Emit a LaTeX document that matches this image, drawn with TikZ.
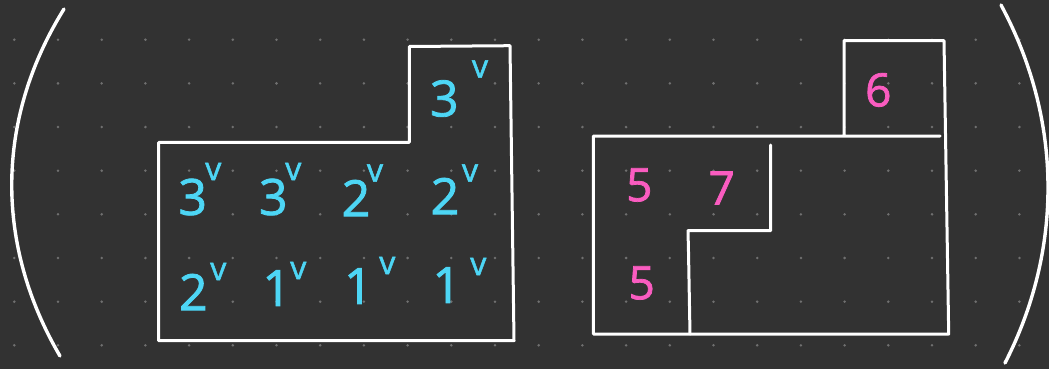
\documentclass[tikz,border=0pt]{standalone}
\usepackage{fontspec}
\setmainfont{Open Sans}
\newfontfamily\hand[FakeBold=1.6]{Open Sans}
\definecolor{bg}{HTML}{323232}
\definecolor{dotc}{HTML}{707070}
\definecolor{cy}{HTML}{4DD6F5}
\definecolor{pk}{HTML}{FA5CC0}
\tikzset{
  wall/.style={draw=white, line width=3pt, line cap=round, line join=round},
  paren/.style={draw=white, line width=3.4pt, line cap=round},
  dig/.style={inner sep=0pt, font=\hand\fontsize{50}{50}\selectfont},
  cyd/.style={dig, text=cy},
  pkd/.style={dig, text=pk, font=\hand\fontsize{46}{46}\selectfont},
  tick/.style={inner sep=0pt, text=cy, font=\hand\fontsize{32}{32}\selectfont},
}
\begin{document}
\begin{tikzpicture}[x=1pt,y=-1pt]
\fill[bg] (0,0) rectangle (1049,369);
\useasboundingbox (0,0) rectangle (1049,369);
% dot grid
\foreach \i in {0,...,23}{
  \foreach \j in {0,...,7}{
    \fill[dotc] ({14.3+43.7*\i},{39.7+43.66*\j}) circle (1.4);
  }
}
% parentheses
\coordinate (lp1) at (64,9);
\coordinate (lp2) at (60,356);
\draw[paren] (lp1) .. controls (-5,120) and (-5,245) .. (lp2);
\coordinate (rp1) at (1001,5);
\coordinate (rp2) at (1005,363);
\draw[paren] (rp1) .. controls (1063,120) and (1063,250) .. (rp2);
% left shape
\coordinate (a1) at (409.3,46.5);
\coordinate (a2) at (510,45.7);
\coordinate (a3) at (514,340.7);
\coordinate (a4) at (158.7,340.7);
\coordinate (a5) at (158.7,142.3);
\coordinate (a6) at (409.3,142.3);
\draw[wall] (a1) -- (a2) -- (a3) -- (a4) -- (a5) -- (a6) -- cycle;
% right shape
\coordinate (b1) at (844,40.7);
\coordinate (b2) at (944,40.7);
\coordinate (b3) at (948.7,334);
\coordinate (b4) at (593.3,334);
\coordinate (b5) at (593.3,136);
\coordinate (b6) at (940,136);
\coordinate (b7) at (844,136);
\draw[wall] (b7) -- (b1) -- (b2) -- (b3) -- (b4) -- (b5) -- (b6);
\coordinate (c1) at (770.7,145);
\coordinate (c2) at (770.7,230.7);
\coordinate (c3) at (688,230.7);
\coordinate (c4) at (688.5,252);
\coordinate (c5) at (690,334);
\draw[wall] (c1) -- (c2) -- (c3) -- (c4) -- (c5);
% cyan numbers
\node[cyd] (n0) at (444.3,98.5) {3};
\node[tick] (t0) at (480,69) {v};
\node[cyd] (n1) at (192.7,197) {3};
\node[tick] (t1) at (213.3,171.5) {v};
\node[cyd] (n2) at (273.3,197) {3};
\node[tick] (t2) at (293.3,171.5) {v};
\node[cyd] (n3) at (356,198) {2};
\node[tick] (t3) at (375,173) {v};
\node[cyd] (n4) at (445,196) {2};
\node[tick] (t4) at (470,173) {v};
\node[cyd] (n5) at (193.3,292) {2};
\node[tick] (t5) at (218.3,271.5) {v};
\node[cyd] (n6) at (276.7,288) {1};
\node[tick] (t6) at (298.3,270.5) {v};
\node[cyd] (n7) at (358.3,286) {1};
\node[tick] (t7) at (387.3,265.5) {v};
\node[cyd] (n8) at (446.7,285) {1};
\node[tick] (t8) at (478.3,266.5) {v};
% pink numbers
\node[pkd] (p1) at (878.3,90) {6};
\node[pkd] (p2) at (639.3,185) {5};
\node[pkd] (p3) at (721.7,188) {7};
\node[pkd] (p4) at (641.7,283) {5};
\end{tikzpicture}
\end{document}
